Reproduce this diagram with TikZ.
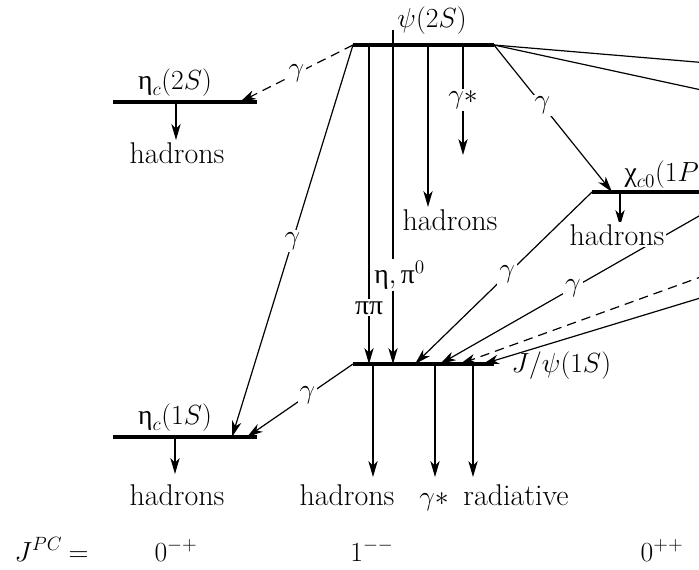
\documentclass[tikz,border=0pt]{standalone}
\usepackage{fontspec}
\newfontfamily\grk{Liberation Serif}
\usetikzlibrary{arrows.meta}
\newcommand\gEta{\mbox{\grk η}}
\newcommand\gPi{\mbox{\grk π}}
\newcommand\gChi{\mbox{\grk χ}}
\begin{document}
\begin{tikzpicture}[x=0.75pt,y=-0.75pt,
  every node/.style={font=\fontsize{20.74}{24}\selectfont},
  wd/.style={font=\fontsize{22.5}{26}\selectfont},
  lvl/.style={line width=3pt},
  tl/.style={line width=0.9pt},
  tr/.style={line width=0.9pt,-{Stealth[length=12pt,width=7pt,inset=3.5pt]}},
  dsh/.style={dash pattern=on 7pt off 4.5pt},
  lab/.style={fill=white,inner sep=1.5pt}]
\useasboundingbox (0,0) rectangle (699,569);
\clip (0,0) rectangle (699,569);
% level end points
\coordinate (psiL) at (353,45); \coordinate (psiR) at (494,45);
\coordinate (e2L) at (113,102); \coordinate (e2R) at (257,102);
\coordinate (jL) at (353,364);  \coordinate (jR) at (494,364);
\coordinate (e1L) at (113,437); \coordinate (e1R) at (257,437);
\coordinate (cL) at (592,192);  \coordinate (cR) at (720,192);
% connector end points
\coordinate (e2a) at (240,102);
\coordinate (e1a) at (232,437);
\coordinate (e1b) at (247,437);
\coordinate (ppT) at (369,45);  \coordinate (ppB) at (369,364);
\coordinate (epT) at (393,30);  \coordinate (epB) at (393,364);
\coordinate (hmT) at (428,45);  \coordinate (hmB) at (428,207);
\coordinate (gsT) at (463,45);  \coordinate (gsB) at (463,155);
\coordinate (ca) at (612,192);
\coordinate (c1) at (720,64);   \coordinate (c2) at (720,94);
\coordinate (ja) at (415,364);  \coordinate (jb) at (440,364);
\coordinate (jc) at (460,364);  \coordinate (jd) at (483,364);
\coordinate (r1) at (720,204);  \coordinate (r2) at (720,270);
\coordinate (r3) at (720,292);
\coordinate (d1T) at (373,364); \coordinate (d1B) at (373,477);
\coordinate (d2T) at (435,364); \coordinate (d2B) at (435,477);
\coordinate (d3T) at (473,364); \coordinate (d3B) at (473,477);
\coordinate (u2T) at (176,102); \coordinate (u2B) at (176,140);
\coordinate (u1T) at (175,437); \coordinate (u1B) at (175,474);
\coordinate (ucT) at (620,192); \coordinate (ucB) at (620,226);
% transitions
\draw[tr,dsh] (psiL) -- node[lab,pos=0.5]{$\gamma$} (e2a);
\draw[tr] (psiL) -- node[lab,pos=0.5]{$\gamma$} (e1a);
\draw[tr] (ppT) -- node[lab,pos=0.824]{$\gPi\gPi$} (ppB);
\draw[tr] (epT) -- node[lab,pos=0.733,xshift=5pt]{$\gEta,\gPi^0$} (epB);
\draw[tr] (hmT) -- (hmB);
\draw[tr] (gsT) -- node[lab,pos=0.5]{$\gamma{\ast}$} (gsB);
\draw[tr] (psiR) -- node[lab,pos=0.41]{$\gamma$} (ca);
\draw[tl] (psiR) -- (c1);
\draw[tl] (psiR) -- (c2);
\draw[tr] (cL) -- node[lab,pos=0.48]{$\gamma$} (ja);
\draw[tr] (r1) -- node[lab,pos=0.525]{$\gamma$} (jb);
\draw[tr,dsh] (r2) -- (jc);
\draw[tr] (r3) -- (jd);
\draw[tr] (d1T) -- (d1B);
\draw[tr] (d2T) -- (d2B);
\draw[tr] (d3T) -- (d3B);
\draw[tr] (jL) -- node[lab,pos=0.43]{$\gamma$} (e1b);
\draw[tr] (u2T) -- (u2B);
\draw[tr] (u1T) -- (u1B);
\draw[tr] (ucT) -- (ucB);
% levels
\draw[lvl] (psiL) -- (psiR);
\draw[lvl] (e2L) -- (e2R);
\draw[lvl] (jL) -- (jR);
\draw[lvl] (e1L) -- (e1R);
\draw[lvl] (cL) -- (cR);
% level names
\node[anchor=base] (tpsi) at (432,27) {$\psi(2S)$};
\node[anchor=base] (te2) at (175,89) {$\gEta_c(2S)$};
\node[anchor=base] (te1) at (175,424) {$\gEta_c(1S)$};
\node[anchor=base west] (tj) at (507,372) {$J/\psi(1S)$};
\node[anchor=base west] (tc) at (620,181) {$\gChi_{c0}(1P)$};
% final states
\node[anchor=base,wd] (h2) at (177,163) {hadrons};
\node[anchor=base,wd] (h1) at (177,505) {hadrons};
\node[anchor=base,wd] (hm) at (450,230) {hadrons};
\node[anchor=base,wd,lab] (hc) at (617,245) {hadrons};
\node[anchor=base,wd] (hj) at (347,505) {hadrons};
\node[anchor=base] (gj) at (434,505) {$\gamma{\ast}$};
\node[anchor=base,wd] (rj) at (516,505) {radiative};
% quantum numbers
\node[anchor=base west] (tJ) at (10,561) {$J^{PC}$};
\node[anchor=base west] (teq) at (64,561) {=};
\node[anchor=base] (q1) at (176,561) {$0^{-+}$};
\node[anchor=base] (q2) at (372,561) {$1^{--}$};
\node[anchor=base] (q3) at (662,561) {$0^{++}$};
\end{tikzpicture}
\end{document}
